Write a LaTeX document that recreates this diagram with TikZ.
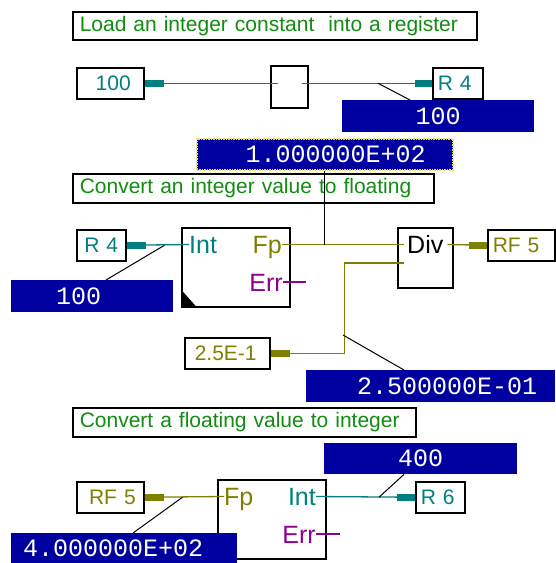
\documentclass[tikz,border=0pt]{standalone}
\usepackage{fontspec}
\setmainfont{Liberation Sans}
\newfontfamily\valfamily{Liberation Mono}
\usetikzlibrary{positioning}
\definecolor{valblue}{HTML}{0000A0}
\definecolor{ttlgreen}{HTML}{128C12}
\definecolor{wteal}{HTML}{008080}
\definecolor{wolive}{HTML}{808000}
\definecolor{wpurple}{HTML}{900090}
\definecolor{dotyellow}{HTML}{E8E060}

\begin{document}
\begin{tikzpicture}[x=1pt, y=-1pt,
  ttl/.style={draw, line width=1.5pt, anchor=north west, text=ttlgreen, font=\fontsize{21}{26}\selectfont, inner xsep=7pt, inner ysep=0pt, minimum height=29pt, align=left},
  lbl/.style={draw, line width=1.5pt, fill=white, anchor=north west, font=\fontsize{21}{24}\selectfont, inner ysep=0pt, minimum height=31pt},
  val/.style={fill=valblue, text=white, anchor=north west, font=\valfamily\fontsize{25}{28}\selectfont, inner sep=0pt},
  blk/.style={draw, line width=1.5pt, anchor=north west, inner sep=0pt},
  pinlbl/.style={font=\fontsize{25}{28}\selectfont, inner sep=0pt, text height=18pt, text depth=0pt},
  wire/.style={line width=1.3pt, #1},
  stub/.style={line width=7pt, #1},
  lead/.style={line width=1pt, black}
]
\path[use as bounding box, fill=white] (0,0) rectangle (555,563);

% load an integer constant
\node[ttl, text width=390pt, minimum height=28pt] (t1) at (72,11) {\mbox{Load an integer constant\ \ into a register}};
\node[lbl, text width=41pt, inner xsep=13pt, align=right, text=wteal] (k100) at (76,67) {100};
\node[blk, minimum width=37pt, minimum height=42pt] (mov) at (270,65) {};
\node[lbl, text width=40pt, inner xsep=5pt, align=left, text=wteal] (r4a) at (432,67) {R 4};
\node[val, minimum width=192pt, minimum height=32pt] (v100a) at (342,100) {100};
\draw[stub=wteal] (k100.east) -- ++(19,0);
\draw[wire=wteal] (k100.east) -- ([xshift=8pt]mov.west |- k100.east);
\draw[wire=wteal] ([xshift=-7pt]mov.east |- k100.east) -- (r4a.west);
\draw[stub=wteal] (r4a.west) -- ++(-17,0);
\draw[lead] ([xshift=-54pt]r4a.west) -- ([xshift=68pt]v100a.north west);

% convert integer to floating
\node[val, minimum width=256pt, minimum height=31pt, draw=dotyellow, densely dotted, line width=1.5pt, text width=202pt, inner xsep=27pt, align=right] (fv1) at (196,138) {1.000000E+02};
\node[ttl, text width=347pt] (t2) at (72,173) {\mbox{Convert an integer value to floating}};
\node[lbl, text width=37pt, inner xsep=6pt, align=center, text=wteal] (r4b) at (76,229) {R 4};
\node[blk, minimum width=108pt, minimum height=79pt] (cvt) at (181,227) {};
\fill (cvt.south west) -- ++(0,-18) -- ([xshift=16pt]cvt.south west) -- cycle;
\node[val, minimum height=32pt, text width=72pt, inner xsep=45pt, align=left] (v100b) at (11,280) {100};
\node[blk, minimum width=55pt, minimum height=60pt] (div) at (397,227) {};
\node[lbl, text width=57pt, inner xsep=5pt, align=left, text=wolive] (rf5a) at (487,229) {RF 5};
\node[lbl, text width=65pt, inner xsep=10pt, align=left, text=wolive] (k25) at (184,337) {2.5E-1};
\node[val, minimum height=32pt, text width=213pt, inner xsep=18pt, align=right] (fv25) at (306,370) {2.500000E-01};
\node[pinlbl, anchor=west, text=wteal] (cvtI) at (189,244.5) {Int};
\node[pinlbl, anchor=east, text=wolive] (cvtF) at (282,244.5) {Fp};
\node[pinlbl, anchor=east, text=wpurple] (cvtE) at (283,282) {Err};
\node[pinlbl, anchor=west] (divD) at (407,244.5) {Div};
\coordinate (divB) at (404,263);
\coordinate (tap25) at (343,335);
\draw[stub=wteal] (r4b.east) -- ++(19,0);
\draw[wire=wteal] (r4b.east) -- (cvtI.west);
\draw[lead] ([xshift=38pt]r4b.east) -- ([xshift=95pt]v100b.north west);
\draw[wire=wolive] (cvtF.east) -- ([xshift=-3pt]divD.west);
\draw[lead] (fv1.south) -- (fv1.south |- cvtF.east);
\draw[wire=wpurple] (cvtE.east) -- ++(23,0);
\draw[wire=wolive] (divB) -| ([xshift=74pt]k25.east) -- (k25.east);
\draw[stub=wolive] (k25.east) -- ++(19,0);
\draw[lead] (tap25) -- ([xshift=98pt]fv25.north west);
\draw[wire=wolive] ([xshift=-6pt]div.east |- cvtF.east) -- (rf5a.west);
\draw[stub=wolive] (rf5a.west) -- ++(-18,0);

% convert floating to integer
\node[ttl, text width=329pt] (t3) at (72,407) {\mbox{Convert a floating value to integer}};
\node[lbl, text width=51pt, inner xsep=8pt, align=right, text=wolive] (rf5b) at (76,481) {RF 5};
\node[blk, minimum width=108pt, minimum height=79pt] (f2i) at (217,479) {};
\node[val, minimum height=30pt, text width=202pt, inner xsep=12pt, align=left] (v400b) at (11,533) {4.000000E+02};
\node[val, minimum width=193pt, minimum height=31pt] (v400) at (324,443) {400};
\node[lbl, text width=39pt, inner xsep=5pt, align=left, text=wteal] (r6) at (415,481) {R 6};
\node[pinlbl, anchor=west, text=wolive] (f2iF) at (224,496.5) {Fp};
\node[pinlbl, anchor=east, text=wteal] (f2iI) at (316,496.5) {Int};
\node[pinlbl, anchor=east, text=wpurple] (f2iE) at (316,534) {Err};
\draw[stub=wolive] (rf5b.east) -- ++(19,0);
\draw[wire=wolive] (rf5b.east) -- (f2iF.west);
\draw[lead] ([xshift=38pt]rf5b.east) -- ([xshift=122pt]v400b.north west);
\draw[wire=wteal] (f2iI.east) -- (r6.west);
\draw[stub=wteal] (r6.west) -- ++(-18,0);
\draw[lead] ([xshift=-36pt]r6.west) -- ([xshift=80pt]v400.south west);
\draw[wire=wpurple] (f2iE.east) -- ++(24,0);
\end{tikzpicture}
\end{document}
